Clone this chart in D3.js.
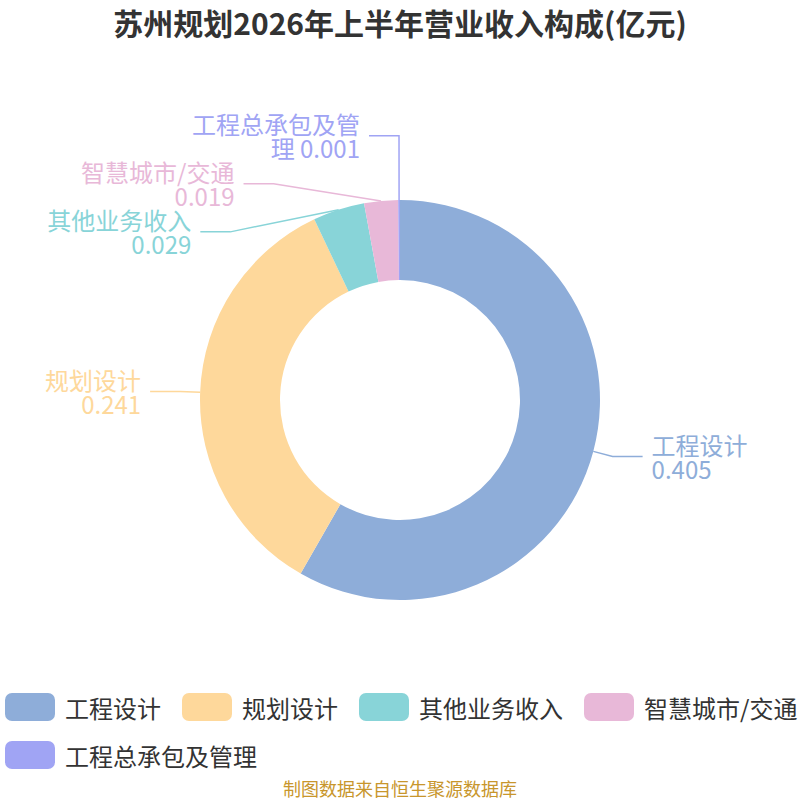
<!DOCTYPE html>
<html>
<head>
<meta charset="utf-8">
<script src="https://cdn.jsdelivr.net/npm/d3@7"></script>
<style>
  body { margin: 0; background: #fff; }
  svg { display: block; }
</style>
</head>
<body>
<div id="chart"></div>
<script>
// data
const categories = ['工程设计', '规划设计', '其他业务收入', '智慧城市/交通', '工程总承包及管理'];
const values = [0.405, 0.241, 0.029, 0.019, 0.001];
const colors = ['#8eadd9', '#fed89b', '#88d4d8', '#e8b8d8', '#a0a4f4'];
const titleText = '苏州规划2026年上半年营业收入构成(亿元)';
const sourceText = '制图数据来自恒生聚源数据库';

const width = 800, height = 800;
const cx = 400, cy = 400, outerR = 200, innerR = 120;
const len1 = 20, len2 = 30, labelGap = 9, lineH = 24;
const labelSize = 24, legendSize = 24, maxLabelChars = 7;
const font = '"Noto Sans CJK SC", "Noto Sans", sans-serif';

const svg = d3.select('#chart')
  .append('svg')
  .attr('width', width)
  .attr('height', height)
  .style('font-family', font);

// title
svg.append('text')
  .attr('x', width / 2)
  .attr('y', 22)
  .attr('text-anchor', 'middle')
  .attr('dominant-baseline', 'central')
  .attr('font-size', 30)
  .attr('font-weight', 'bold')
  .attr('fill', '#333')
  .text(titleText);

const data = categories.map((c, i) => ({ name: c, value: values[i], color: colors[i] }));
const pie = d3.pie().value(d => d.value).sort(null);
const arcs = pie(data);
const arc = d3.arc().innerRadius(innerR).outerRadius(outerR);

const g = svg.append('g').attr('transform', `translate(${cx},${cy})`);
g.selectAll('path.slice')
  .data(arcs)
  .join('path')
  .attr('class', 'slice')
  .attr('d', arc)
  .attr('fill', d => d.data.color);

// label rows: name, then value (long names get broken like the original)
function labelRows(name, value) {
  if (name.length > maxLabelChars) {
    return [name.slice(0, maxLabelChars), name.slice(maxLabelChars) + ' ' + value];
  }
  return [name, String(value)];
}

const labels = arcs.map(a => {
  const mid = (a.startAngle + a.endAngle) / 2;
  const sx = Math.sin(mid), sy = -Math.cos(mid);
  return {
    a: a,
    dir: sx >= 0 ? 1 : -1,
    p0: [cx + outerR * sx, cy + outerR * sy],
    bx: cx + (outerR + len1) * sx,
    by: cy + (outerR + len1) * sy,
    rows: labelRows(a.data.name, a.data.value)
  };
});

// keep labels on one side from overlapping: pack them in blocks
function blockTop(b) {
  return d3.mean(b, (it, i) => it.by - i * it.rows.length * lineH);
}
function layoutSide(list) {
  if (list.length < 1) return;
  list.sort((p, q) => p.by - q.by);
  const blocks = [];
  list.forEach(it => {
    blocks.push([it]);
    while (blocks.length > 1) {
      const cur = blocks[blocks.length - 1], prev = blocks[blocks.length - 2];
      const h = it.rows.length * lineH;
      if (blockTop(prev) + prev.length * h > blockTop(cur)) {
        blocks.pop();
        blocks[blocks.length - 1] = prev.concat(cur);
      } else break;
    }
  });
  let moved = false;
  blocks.forEach(b => {
    const t = blockTop(b);
    b.forEach((it, i) => {
      it.ly = t + i * it.rows.length * lineH;
      if (Math.abs(it.ly - it.by) > 0.5) moved = true;
    });
  });
  list.forEach(it => { it.lx = it.bx; });
  if (!moved) return;
  // put bend points back on an ellipse, top and bottom half apart
  const rA = outerR + len1;
  [list.filter(it => it.ly <= cy), list.filter(it => it.ly > cy)].forEach(semi => {
    if (!semi.length) return;
    const far = semi.reduce((m, it) => Math.abs(it.ly - cy) > Math.abs(m.ly - cy) ? it : m);
    const dyF = Math.abs(far.ly - cy), dxF = far.bx - cx;
    const rB = Math.abs(dxF) < rA ? Math.sqrt(dyF * dyF / (1 - dxF * dxF / rA / rA)) : rA;
    semi.forEach(it => {
      const dy = Math.abs(it.ly - cy);
      const dx = dy < rB ? rA * Math.sqrt(1 - dy * dy / rB / rB) : 0;
      it.lx = cx + dx * it.dir;
    });
  });
}
layoutSide(labels.filter(l => l.dir > 0));
layoutSide(labels.filter(l => l.dir < 0));

const lg = svg.append('g');
labels.forEach(l => {
  const ex = l.lx + l.dir * len2;
  lg.append('polyline')
    .attr('points', [l.p0, [l.lx, l.ly], [ex, l.ly]].map(p => p.join(',')).join(' '))
    .attr('fill', 'none')
    .attr('stroke', l.a.data.color)
    .attr('stroke-width', 1.5);
  const t = lg.append('text')
    .attr('x', ex + l.dir * labelGap)
    .attr('text-anchor', l.dir > 0 ? 'start' : 'end')
    .attr('font-size', labelSize)
    .attr('fill', l.a.data.color);
  const n = l.rows.length;
  l.rows.forEach((r, i) => {
    t.append('tspan')
      .attr('x', ex + l.dir * labelGap)
      .attr('y', l.ly + (i - (n - 1) / 2) * lineH)
      .attr('dominant-baseline', 'central')
      .text(r);
  });
});

// legend
const legend = svg.append('g');
let lx = 5, ly = 693;
data.forEach(d => {
  const item = legend.append('g');
  const txt = item.append('text')
    .attr('font-size', legendSize)
    .attr('fill', '#333')
    .attr('dominant-baseline', 'central')
    .text(d.name);
  const tw = txt.node().getComputedTextLength();
  if (lx + 60 + tw > width) { lx = 5; ly += 48; }
  item.append('rect')
    .attr('x', lx).attr('y', ly)
    .attr('width', 50).attr('height', 28)
    .attr('rx', 7)
    .attr('fill', d.color);
  txt.attr('x', lx + 60).attr('y', ly + 14);
  lx += 60 + tw + 21;
});

// source note
svg.append('text')
  .attr('x', width / 2)
  .attr('y', 788)
  .attr('text-anchor', 'middle')
  .attr('dominant-baseline', 'central')
  .attr('font-size', 18)
  .attr('fill', '#c8962c')
  .text(sourceText);
</script>
</body>
</html>
